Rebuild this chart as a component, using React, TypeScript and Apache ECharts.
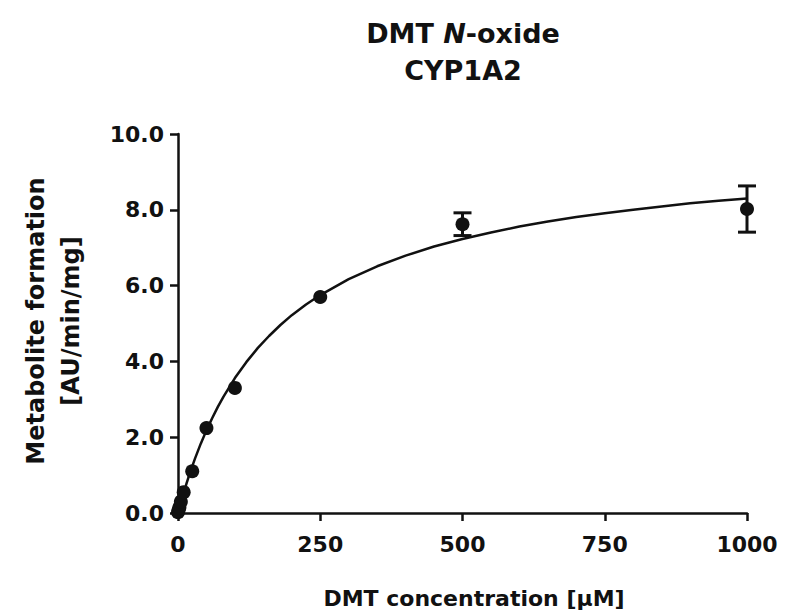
import React, { useEffect, useRef } from "react";
import * as echarts from "echarts";

// Measured substrate concentrations (µM) with mean formation rate and error
const concentrations = [0, 1, 2.5, 5, 10, 25, 50, 100, 250, 500, 1000];
const formationMean = [0.02, 0.07, 0.15, 0.3, 0.55, 1.1, 2.24, 3.3, 5.7, 7.62, 8.02];
const formationErr = [0, 0, 0, 0, 0, 0, 0, 0, 0, 0.3, 0.61];

// Fitted kinetic curve
const fitX = [
  0, 5, 10, 15, 20, 25, 30, 40, 50, 60, 70, 80, 100, 120, 140, 160, 180, 200, 225, 250,
  300, 350, 400, 450, 500, 550, 600, 650, 700, 750, 800, 850, 900, 950, 1000,
];
const fitY = [
  0, 0.27, 0.53, 0.78, 1.01, 1.23, 1.44, 1.83, 2.18, 2.5, 2.8, 3.07, 3.56, 3.98, 4.35, 4.67, 4.96, 5.22, 5.5, 5.75,
  6.17, 6.51, 6.79, 7.03, 7.23, 7.4, 7.56, 7.69, 7.81, 7.91, 8.0, 8.09, 8.17, 8.24, 8.3,
];

const xTicks = [0, 250, 500, 750, 1000];
const yTicks = [0, 2, 4, 6, 8, 10];

const FONT = "DejaVu Sans";
const INK = "#111111";

export default function App() {
  const ref = useRef<HTMLDivElement>(null);

  useEffect(() => {
    document.body.style.margin = "0";
    const chart = echarts.init(ref.current!, null, { renderer: "svg" });

    const points = concentrations.map((c, i) => [c, formationMean[i]]);
    const errors = concentrations.map((c, i) => [c, formationMean[i] - formationErr[i], formationMean[i] + formationErr[i]]);
    const curve = fitX.map((c, i) => [c, fitY[i]]);

    chart.setOption({
      animation: false,
      grid: { left: 178, right: 40, top: 134, bottom: 101 },
      xAxis: {
        type: "value",
        min: xTicks[0],
        max: xTicks[xTicks.length - 1],
        interval: 250,
        splitLine: { show: false },
        axisLine: { lineStyle: { color: INK, width: 2.5 } },
        axisTick: { show: true, inside: false, length: 8, lineStyle: { color: INK, width: 2.5 } },
        axisLabel: {
          color: INK,
          fontFamily: FONT,
          fontWeight: "bold",
          fontSize: 22,
          margin: 20,
          formatter: (v: number) => String(v),
        },
      },
      yAxis: {
        type: "value",
        min: yTicks[0],
        max: yTicks[yTicks.length - 1],
        interval: 2,
        splitLine: { show: false },
        axisLine: { show: true, lineStyle: { color: INK, width: 2.5 } },
        axisTick: { show: true, inside: false, length: 8, lineStyle: { color: INK, width: 2.5 } },
        axisLabel: {
          color: INK,
          fontFamily: FONT,
          fontWeight: "bold",
          fontSize: 22,
          margin: 14,
          formatter: (v: number) => v.toFixed(1),
        },
      },
      graphic: [
        {
          type: "text",
          x: 463,
          y: 33,
          style: {
            text: "{b|DMT }{i|N}{b|-oxide}",
            align: "center",
            verticalAlign: "middle",
            rich: {
              b: { fontFamily: FONT, fontWeight: "bold", fontSize: 27, fill: INK },
              i: { fontFamily: FONT, fontWeight: "bold", fontStyle: "italic", fontSize: 27, fill: INK },
            },
          },
        },
        {
          type: "text",
          x: 463,
          y: 70,
          style: {
            text: "CYP1A2",
            align: "center",
            verticalAlign: "middle",
            fontFamily: FONT,
            fontWeight: "bold",
            fontSize: 27,
            fill: INK,
          },
        },
        {
          type: "text",
          x: 36,
          y: 321,
          rotation: Math.PI / 2,
          style: {
            text: "Metabolite formation",
            align: "center",
            verticalAlign: "middle",
            fontFamily: FONT,
            fontWeight: "bold",
            fontSize: 24,
            fill: INK,
          },
        },
        {
          type: "text",
          x: 71,
          y: 321,
          rotation: Math.PI / 2,
          style: {
            text: "[AU/min/mg]",
            align: "center",
            verticalAlign: "middle",
            fontFamily: FONT,
            fontWeight: "bold",
            fontSize: 24,
            fill: INK,
          },
        },
        {
          type: "text",
          x: 474,
          y: 598,
          style: {
            text: "DMT concentration [µM]",
            align: "center",
            verticalAlign: "middle",
            fontFamily: FONT,
            fontWeight: "bold",
            fontSize: 22,
            fill: INK,
          },
        },
      ],
      series: [
        {
          type: "line",
          data: curve,
          smooth: false,
          showSymbol: false,
          lineStyle: { color: INK, width: 2.5 },
          z: 2,
        },
        {
          type: "custom",
          data: errors,
          z: 3,
          renderItem: (params: any, api: any) => {
            const x = api.value(0);
            const lo = api.coord([x, api.value(1)]);
            const hi = api.coord([x, api.value(2)]);
            if (Math.abs(hi[1] - lo[1]) < 1) return { type: "group", children: [] };
            const half = 9;
            const style = { stroke: INK, lineWidth: 3 };
            return {
              type: "group",
              children: [
                { type: "line", shape: { x1: lo[0], y1: lo[1], x2: hi[0], y2: hi[1] }, style },
                { type: "line", shape: { x1: lo[0] - half, y1: lo[1], x2: lo[0] + half, y2: lo[1] }, style },
                { type: "line", shape: { x1: hi[0] - half, y1: hi[1], x2: hi[0] + half, y2: hi[1] }, style },
              ],
            };
          },
        },
        {
          type: "scatter",
          data: points,
          symbol: "circle",
          symbolSize: 14,
          itemStyle: { color: INK, opacity: 1 },
          z: 4,
        },
      ],
    });

    return () => chart.dispose();
  }, []);

  return <div ref={ref} style={{ width: 787, height: 614 }} />;
}
